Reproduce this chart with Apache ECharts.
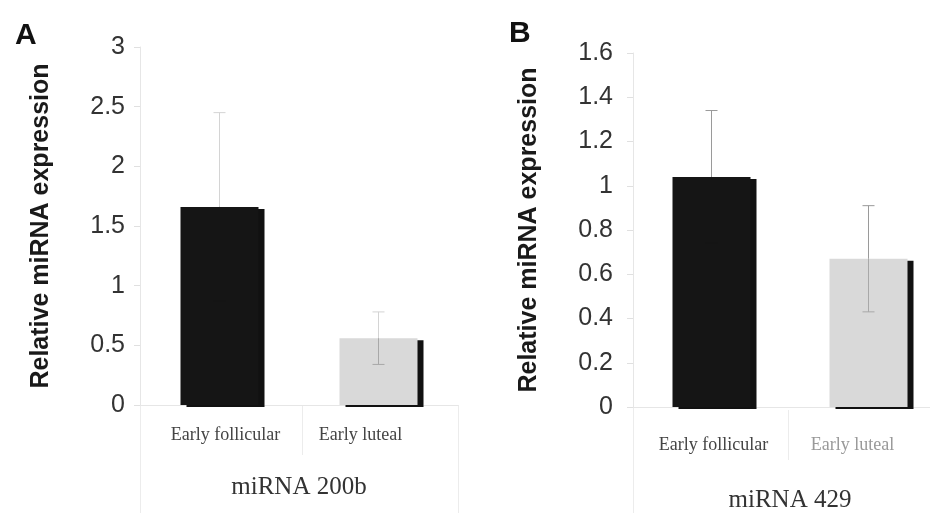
<!DOCTYPE html>
<html>
<head>
<meta charset="utf-8">
<script src="https://cdn.jsdelivr.net/npm/echarts@6/dist/echarts.min.js"></script>
<style>
  html, body { margin: 0; padding: 0; background: #fff; }
  #chart { width: 930px; height: 513px; }
</style>
</head>
<body>
<div id="chart"></div>
<script>
// data
const categories = ['Early follicular', 'Early luteal']
const meanA = [1.66, 0.56]
const errA = [0.79, 0.22]
const meanB = [1.04, 0.67]
const errB = [0.30, 0.24]
const ticksA = { min: 0, max: 3, interval: 0.5 }
const ticksB = { min: 0, max: 1.6, interval: 0.2 }

const barColors = ['#151515', '#d9d9d9']
// colour of the error line where it runs inside the bar
const innerErrColors = ['#151515', '#a8a8a8']

const sans = 'Liberation Sans, Arial, sans-serif'
const serif = 'Liberation Serif, Times New Roman, serif'

// panel B runs past the right edge in the original, so no clamping
const gridA = { left: 140, top: 47, width: 318, height: 358, outerBoundsMode: 'none' }
const gridB = { left: 633, top: 53, width: 314, height: 354, outerBoundsMode: 'none' }

const chart = echarts.init(document.getElementById('chart'))

const makeBar = (idx, means) => ({
  type: 'bar',
  xAxisIndex: idx,
  yAxisIndex: idx,
  barWidth: 78,
  data: means.map((v, i) => ({
    value: v,
    itemStyle: {
      color: barColors[i],
      shadowColor: '#111',
      shadowBlur: 0,
      shadowOffsetX: 6,
      shadowOffsetY: 2
    }
  })),
  z: 2
})

const makeErr = (idx, means, errs, color) => ({
  type: 'custom',
  xAxisIndex: idx,
  yAxisIndex: idx,
  z: 5,
  data: means.map((m, i) => [i, m, errs[i]]),
  renderItem: (params, api) => {
    const i = api.value(0)
    const m = api.value(1)
    const e = api.value(2)
    const top = api.coord([i, m + e])
    const mid = api.coord([i, m])
    const bot = api.coord([i, m - e])
    const x = top[0]
    const cap = 6
    const inner = innerErrColors[i]
    return {
      type: 'group',
      children: [
        { type: 'line', shape: { x1: x, y1: top[1], x2: x, y2: mid[1] }, style: { stroke: color, lineWidth: 1 } },
        { type: 'line', shape: { x1: x - cap, y1: top[1], x2: x + cap, y2: top[1] }, style: { stroke: color, lineWidth: 1 } },
        { type: 'line', shape: { x1: x, y1: mid[1], x2: x, y2: bot[1] }, style: { stroke: inner, lineWidth: 1 } },
        { type: 'line', shape: { x1: x - cap, y1: bot[1], x2: x + cap, y2: bot[1] }, style: { stroke: inner, lineWidth: 1 } }
      ]
    }
  }
})

const makeYAxis = (idx, t, gap) => ({
  type: 'value',
  gridIndex: idx,
  min: t.min,
  max: t.max,
  interval: t.interval,
  name: 'Relative miRNA expression',
  nameLocation: 'middle',
  nameRotate: 90,
  nameGap: gap,
  nameTextStyle: { fontFamily: sans, fontWeight: 'bold', fontSize: 25, color: '#1a1a1a' },
  axisLine: { show: true, lineStyle: { color: '#e6e6e6' } },
  axisTick: { show: true, length: 6, lineStyle: { color: '#e0e0e0' } },
  axisLabel: { fontFamily: sans, fontSize: 25, color: '#333', margin: idx === 0 ? 15 : 20 },
  splitLine: { show: false }
})

const makeXAxis = (idx, name, gap, labelMargin, labelItems) => ({
  type: 'category',
  gridIndex: idx,
  data: labelItems,
  name: name,
  nameLocation: 'middle',
  nameGap: gap,
  nameTextStyle: { fontFamily: serif, fontSize: 25, color: '#333' },
  axisLine: { show: true, lineStyle: { color: '#e6e6e6' } },
  axisTick: { show: false },
  axisLabel: { fontFamily: serif, fontSize: 18, color: '#444', margin: labelMargin }
})

const faint = { stroke: '#ececec', lineWidth: 1 }
const vline = (x, y1, y2) => ({ type: 'line', shape: { x1: x, y1: y1, x2: x, y2: y2 }, style: faint, silent: true })

const option = {
  animation: false,
  grid: [gridA, gridB],
  xAxis: [
    makeXAxis(0, 'miRNA 200b', 70, 21, [
      { value: categories[0], textStyle: { padding: [0, 0, 0, 12] } },
      { value: categories[1], textStyle: { padding: [0, 36, 0, 0] } }
    ]),
    makeXAxis(1, 'miRNA 429', 81, 29, [
      { value: categories[0], textStyle: { padding: [0, 0, 0, 4] } },
      { value: categories[1], textStyle: { padding: [0, 32, 0, 0], color: '#999' } }
    ])
  ],
  yAxis: [makeYAxis(0, ticksA, 86), makeYAxis(1, ticksB, 91)],
  series: [
    makeBar(0, meanA),
    makeErr(0, meanA, errA, '#d4d4d4'),
    makeBar(1, meanB),
    makeErr(1, meanB, errB, '#9a9a9a')
  ],
  graphic: [
    { type: 'text', left: 15, top: 21, style: { text: 'A', font: 'bold 30px ' + sans, fill: '#111' } },
    { type: 'text', left: 509, top: 19, style: { text: 'B', font: 'bold 30px ' + sans, fill: '#111' } },
    vline(gridA.left + 0.5, gridA.top + gridA.height, 513),
    vline(302.5, gridA.top + gridA.height, 455),
    vline(gridA.left + gridA.width + 0.5, gridA.top + gridA.height, 513),
    vline(gridB.left + 0.5, gridB.top + gridB.height, 513),
    vline(788.5, gridB.top + gridB.height + 3, 460)
  ]
}

chart.setOption(option)
</script>
</body>
</html>
